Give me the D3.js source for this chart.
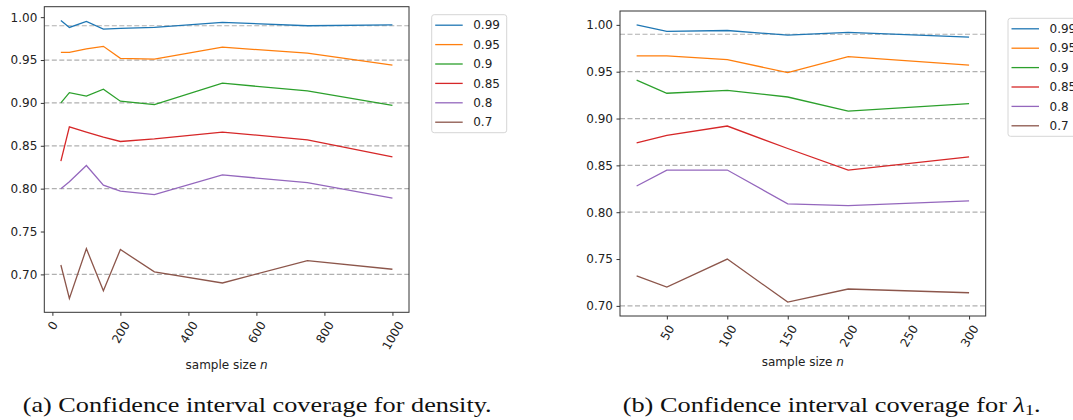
<!DOCTYPE html>
<html lang="en">
<head>
<meta charset="utf-8">
<script src="https://cdn.jsdelivr.net/npm/d3@7"></script>
<style>
  body { margin: 0; background: #fff; }
  svg { display: block; font-family: "DejaVu Sans", sans-serif; }
</style>
</head>
<body>
<script>
// confidence levels (one line per level)
const levels = ['0.99', '0.95', '0.9', '0.85', '0.8', '0.7']
const nominal = [0.99, 0.95, 0.9, 0.85, 0.8, 0.7]
const colors = ['#1f77b4', '#ff7f0e', '#2ca02c', '#d62728', '#9467bd', '#8c564b']

// panel (a): density
const densityN = [25, 50, 100, 150, 200, 300, 500, 750, 1000]
const density99 = [0.996, 0.988, 0.995, 0.986, 0.987, 0.988, 0.994, 0.990, 0.991]
const density95 = [0.959, 0.959, 0.963, 0.966, 0.952, 0.951, 0.965, 0.958, 0.944]
const density90 = [0.900, 0.912, 0.908, 0.916, 0.902, 0.898, 0.923, 0.914, 0.897]
const density85 = [0.832, 0.872, 0.866, 0.860, 0.855, 0.858, 0.866, 0.857, 0.837]
const density80 = [0.800, 0.808, 0.827, 0.804, 0.797, 0.793, 0.816, 0.807, 0.789]
const density70 = [0.711, 0.672, 0.730, 0.681, 0.729, 0.703, 0.690, 0.716, 0.706]
const densityXTicks = [0, 200, 400, 600, 800, 1000]

// panel (b): lambda_1
const lambdaN = [25, 50, 100, 150, 200, 300]
const lambda99 = [1.000, 0.993, 0.994, 0.989, 0.992, 0.987]
const lambda95 = [0.967, 0.967, 0.963, 0.949, 0.966, 0.957]
const lambda90 = [0.941, 0.927, 0.930, 0.923, 0.908, 0.916]
const lambda85 = [0.874, 0.882, 0.892, 0.868, 0.845, 0.859]
const lambda80 = [0.828, 0.845, 0.845, 0.809, 0.807, 0.812]
const lambda70 = [0.732, 0.720, 0.750, 0.704, 0.718, 0.714]
const lambdaXTicks = [50, 100, 150, 200, 250, 300]

const yTicks = [0.70, 0.75, 0.80, 0.85, 0.90, 0.95, 1.00]

const W = 1073, H = 420
const svg = d3.select('body').append('svg')
  .attr('width', W)
  .attr('height', H)
svg.append('rect').attr('width', W).attr('height', H).attr('fill', '#fff')

// matplotlib style 5% margins
function padded(ext) {
  const m = (ext[1] - ext[0]) * 0.05
  return [ext[0] - m, ext[1] + m]
}

function drawPanel(p) {
  const g = svg.append('g')
  const allY = d3.merge(p.series)
  const x = d3.scaleLinear().domain(padded(d3.extent(p.n))).range([p.left, p.right])
  const y = d3.scaleLinear().domain(padded(d3.extent(allY))).range([p.bottom, p.top])

  // reference lines at the nominal levels
  g.selectAll('line.ref')
    .data(nominal)
    .enter()
    .append('line')
    .attr('x1', p.left).attr('x2', p.right)
    .attr('y1', d => y(d)).attr('y2', d => y(d))
    .style('stroke', '#b0b0b0')
    .style('stroke-width', 1.2)
    .style('stroke-dasharray', '5,2.5')

  const line = d3.line()
    .x((d, i) => x(p.n[i]))
    .y(d => y(d))
  g.selectAll('path.series')
    .data(p.series)
    .enter()
    .append('path')
    .attr('d', line)
    .style('fill', 'none')
    .style('stroke', (d, i) => colors[i])
    .style('stroke-width', 1.3)

  // frame
  g.append('rect')
    .attr('x', p.left).attr('y', p.top)
    .attr('width', p.right - p.left).attr('height', p.bottom - p.top)
    .style('fill', 'none')
    .style('stroke', '#333')
    .style('stroke-width', 1)

  // y axis
  const yAxis = g.append('g')
    .attr('transform', `translate(${p.left},0)`)
    .call(d3.axisLeft(y).tickValues(yTicks).tickFormat(d3.format('.2f')).tickSize(3.5).tickPadding(3.5))
  yAxis.select('.domain').remove()
  yAxis.selectAll('line').attr('stroke', '#333')
  yAxis.selectAll('text').attr('fill', '#222').style('font-size', '12px').style('font-family', '"DejaVu Sans", sans-serif')

  // x axis, labels rotated 60 degrees
  const xAxis = g.append('g')
    .attr('transform', `translate(0,${p.bottom})`)
    .call(d3.axisBottom(x).tickValues(p.xTicks).tickFormat(d3.format('d')).tickSize(3.5))
  xAxis.select('.domain').remove()
  xAxis.selectAll('line').attr('stroke', '#333')
  xAxis.selectAll('text')
    .attr('fill', '#222')
    .style('font-size', '12px')
    .style('font-family', '"DejaVu Sans", sans-serif')
    .attr('text-anchor', 'middle')
    .attr('dy', '0.35em')
    .attr('y', 0)
    .attr('transform', function() {
      const w = this.getComputedTextLength()
      const half = (w * Math.sin(Math.PI / 3) + 12 * 0.5) / 2
      return `translate(0,${7 + half}) rotate(-60)`
    })

  g.append('text')
    .attr('x', (p.left + p.right) / 2)
    .attr('y', p.bottom + p.labelGap)
    .attr('text-anchor', 'middle')
    .style('font-size', '12px')
    .attr('fill', '#222')
    .text('sample size ')
    .append('tspan')
    .style('font-style', 'italic')
    .text('n')

  // legend
  const lg = g.append('g').attr('transform', `translate(${p.legendX},${p.legendY})`)
  lg.append('rect')
    .attr('width', 75).attr('height', 118)
    .attr('rx', 2.5)
    .style('fill', '#fff')
    .style('stroke', '#d6d6d6')
  const items = lg.selectAll('g.item')
    .data(levels)
    .enter()
    .append('g')
    .attr('transform', (d, i) => `translate(0,${10.5 + i * 19.4})`)
  items.append('line')
    .attr('x1', 3.5).attr('x2', 31)
    .style('stroke', (d, i) => colors[i])
    .style('stroke-width', 1.3)
  items.append('text')
    .attr('x', 41.5)
    .attr('dy', '0.35em')
    .style('font-size', '12px')
    .attr('fill', '#222')
    .text(d => d)
}

drawPanel({
  n: densityN,
  series: [density99, density95, density90, density85, density80, density70],
  xTicks: densityXTicks,
  left: 44.3, right: 409, top: 6.7, bottom: 312.3,
  legendX: 431.7, legendY: 14.7,
  labelGap: 57
})

drawPanel({
  n: lambdaN,
  series: [lambda99, lambda95, lambda90, lambda85, lambda80, lambda70],
  xTicks: lambdaXTicks,
  left: 620, right: 985.7, top: 11, bottom: 316,
  legendX: 1008, legendY: 18.3,
  labelGap: 50
})

// captions
const capFont = '"Liberation Serif", "DejaVu Serif", serif'
svg.append('text')
  .attr('x', 22.7).attr('y', 411.5)
  .attr('textLength', 469).attr('lengthAdjust', 'spacingAndGlyphs')
  .style('font-family', capFont)
  .style('font-size', '21.5px')
  .attr('fill', '#111')
  .text('(a) Confidence interval coverage for density.')

const capB = svg.append('text')
  .attr('x', 622.7).attr('y', 411.5)
  .attr('textLength', 418).attr('lengthAdjust', 'spacingAndGlyphs')
  .style('font-family', capFont)
  .style('font-size', '21.5px')
  .attr('fill', '#111')
capB.append('tspan').text('(b) Confidence interval coverage for ')
capB.append('tspan').style('font-style', 'italic').text('λ')
capB.append('tspan').attr('dy', 3).style('font-size', '15px').text('1')
capB.append('tspan').attr('dy', -3).text('.')
</script>
</body>
</html>
